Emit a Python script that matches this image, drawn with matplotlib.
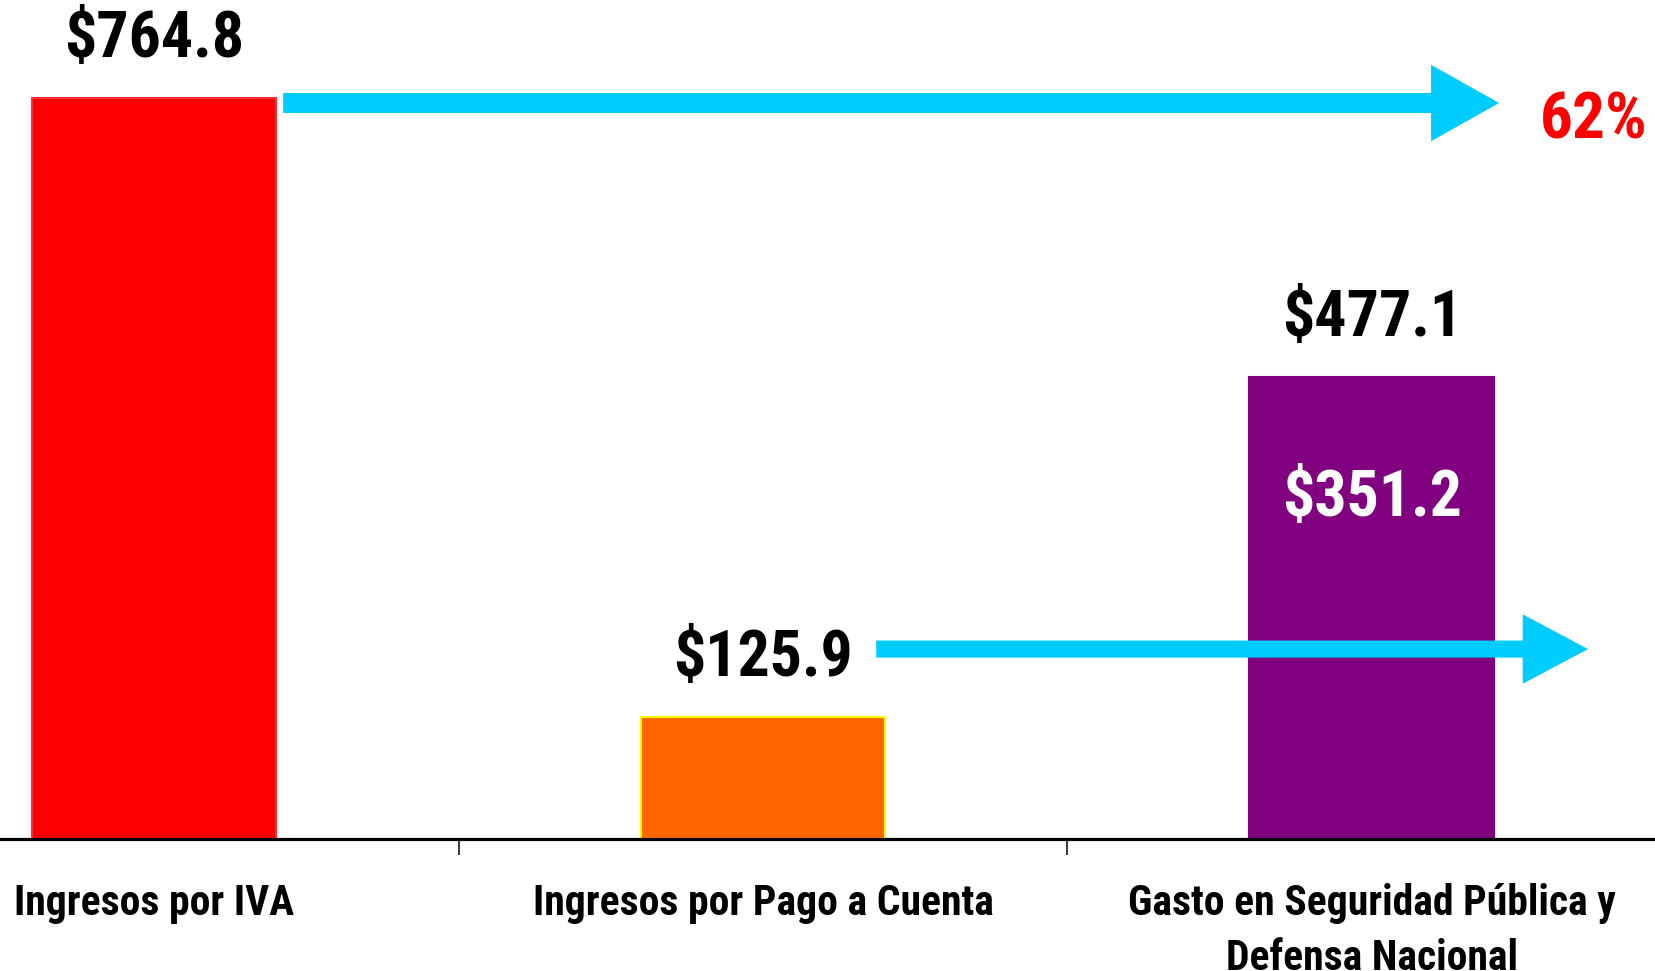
import matplotlib
matplotlib.use("Agg")
import matplotlib.pyplot as plt
from matplotlib import font_manager as fm

categories = ["Ingresos por IVA", "Ingresos por Pago a Cuenta",
              "Gasto en Seguridad Pública y\nDefensa Nacional"]
values = [764.8, 125.9, 477.1]
value_labels = ["$764.8", "$125.9", "$477.1"]
inner_value = 351.2
inner_label = "$351.2"
pct_label = "62%"
bar_colors = ["#FF0000", "#FF6600", "#800080"]
edge_colors = ["#FF3030", "#FFFF00", "#800080"]

bold_fams = {f.name for f in fm.fontManager.ttflist if f.weight in (700, "bold")}
candidates = ["Liberation Sans Narrow", "Arial Narrow", "Roboto Condensed",
              "Archivo Narrow", "PT Sans Narrow", "IBM Plex Sans Condensed",
              "Open Sans Condensed", "Asap Condensed", "Liberation Sans"]
fam = next((c for c in candidates if c in bold_fams), "DejaVu Sans")
plt.rcParams["font.family"] = [fam, "DejaVu Sans"]

fig = plt.figure(figsize=(16.55, 9.71), dpi=100)
ax = fig.add_axes([0, 132 / 971, 1, 839 / 971])
x = list(range(len(categories)))
ax.bar(x, values, width=0.402, color=bar_colors, edgecolor=edge_colors, linewidth=1.5, zorder=2)
ax.set_xlim(-0.253, 2.465)
ax.set_ylim(0, 865.8)

for s in ["left", "right", "top"]:
    ax.spines[s].set_visible(False)
ax.spines["bottom"].set_linewidth(2.3)
ax.set_yticks([])
ax.set_xticks([0.5, 1.5])
ax.set_xticklabels([])
ax.tick_params(axis="x", direction="out", length=11.5, width=1.1, color="black")
ax.set_xticks(x, minor=True)
ax.set_xticklabels(categories, minor=True, fontsize=30, fontweight="bold",
                   linespacing=1.42)
ax.tick_params(axis="x", which="minor", length=0, pad=32)
for lab in ax.get_xticklabels(minor=True):
    lab.set_verticalalignment("top")

for xi, v, lbl in zip(x, values, value_labels):
    ax.annotate(lbl, (xi, v), xytext=(0, 42), textcoords="offset points",
                ha="center", va="center", fontsize=46, fontweight="bold",
                color="black", zorder=5)

ax.text(2, inner_value, inner_label, ha="center", va="center", fontsize=46,
        fontweight="bold", color="white", zorder=5)
ax.text(2.365, 741, pct_label, ha="center", va="center", fontsize=47,
        fontweight="bold", color="#FF0000", zorder=5)

arrow_color = "#00CCFF"
ax.annotate("", xy=(2.209, 759.5), xytext=(0.212, 759.5),
            arrowprops=dict(arrowstyle="simple,head_length=49,head_width=55,tail_width=14.4",
                            mutation_scale=1, color=arrow_color, lw=0,
                            shrinkA=0, shrinkB=0), zorder=4)
ax.annotate("", xy=(2.355, 196), xytext=(1.186, 196),
            arrowprops=dict(arrowstyle="simple,head_length=47,head_width=50,tail_width=12.3",
                            mutation_scale=1, color=arrow_color, lw=0,
                            shrinkA=0, shrinkB=0), zorder=4)

fig.savefig("out.png", dpi=100)
